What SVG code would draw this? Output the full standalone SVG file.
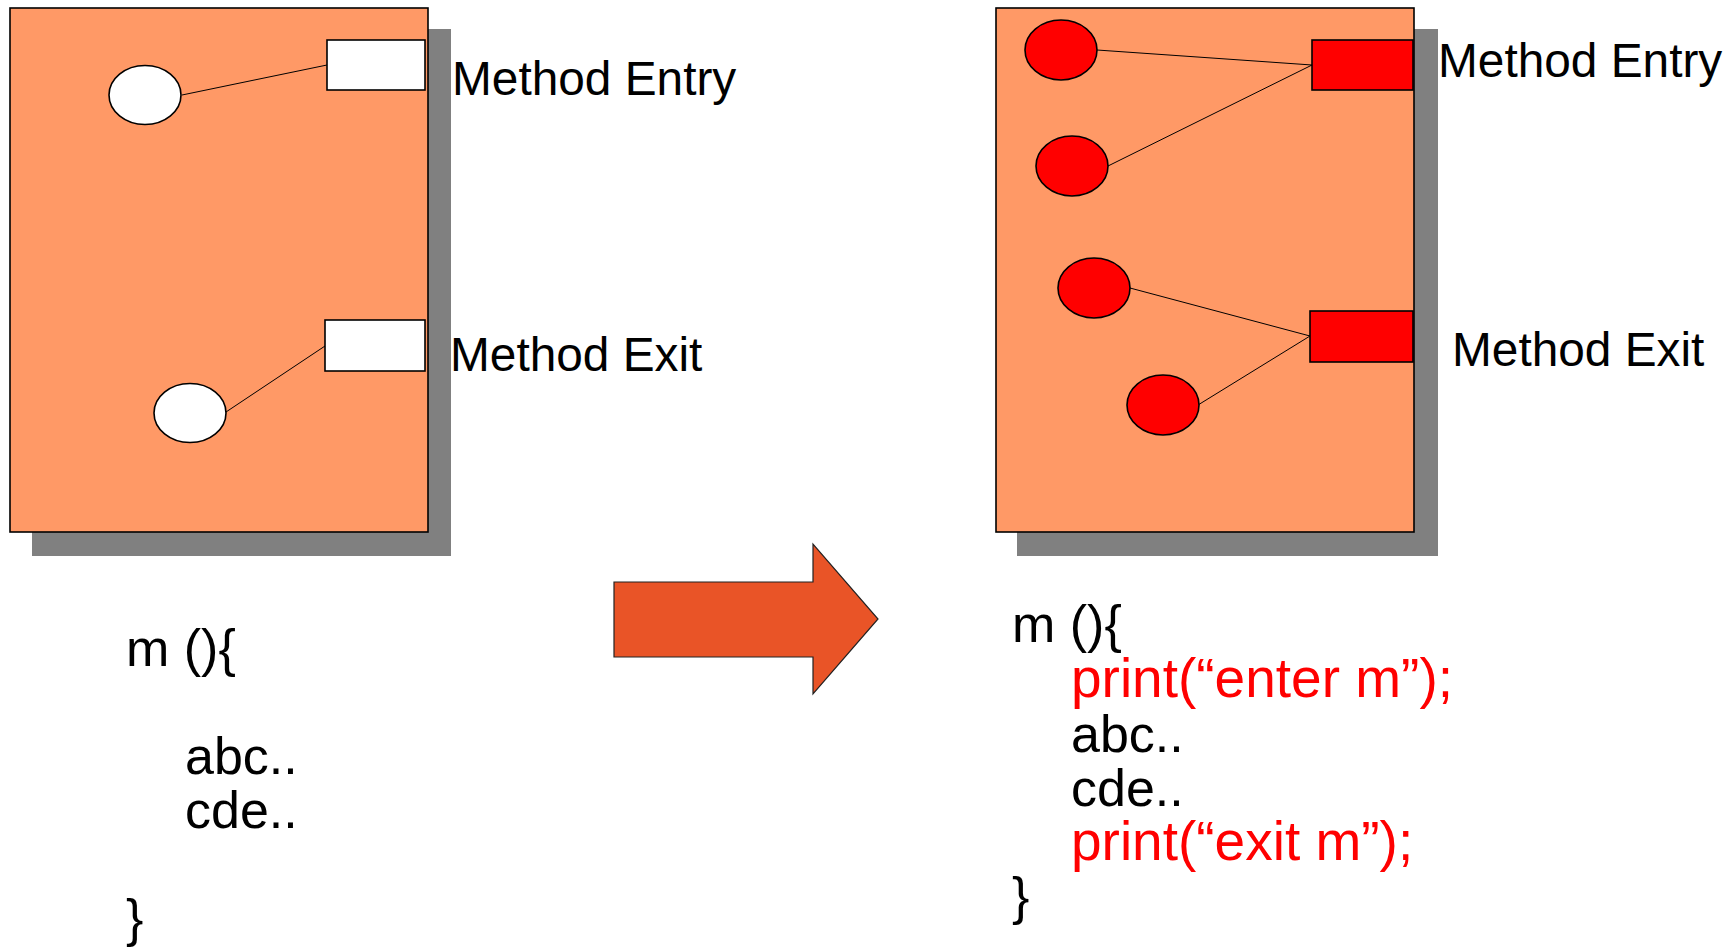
<svg xmlns="http://www.w3.org/2000/svg" width="1733" height="949" viewBox="0 0 1733 949">
<style>
.shadow{fill:#808080;stroke:none}
.panel{fill:#FF9966;stroke:#000;stroke-width:1.6}
.port{fill:#fff;stroke:#000;stroke-width:1.6}
.port.red{fill:#FF0000}
.probe{fill:#fff;stroke:#000;stroke-width:1.6}
.probe.red{fill:#FF0000}
.conn line{stroke:#000;stroke-width:1}
.lbl{font-family:"Liberation Sans",Arial,sans-serif;font-size:47.8px;fill:#000}
.code{font-family:"Liberation Sans",Arial,sans-serif;font-size:52px;fill:#000}
.code.r{fill:#FF0000;font-size:55px}
.arrow{fill:#E95427;stroke:#222;stroke-width:1.2}
</style>
<rect width="1733" height="949" fill="#fff"/>

<g id="left-panel">
<rect class="shadow" x="32" y="29" width="419" height="527"/>
<rect class="panel" x="10" y="8" width="418" height="524"/>
</g>
<g id="right-panel">
<rect class="shadow" x="1017" y="29" width="421" height="527"/>
<rect class="panel" x="996" y="8" width="418" height="524"/>
</g>

<g id="connectors" class="conn">
<line x1="182" y1="95" x2="327" y2="65"/>
<line x1="226" y1="412" x2="325" y2="346"/>
<line x1="1097" y1="50" x2="1312" y2="65"/>
<line x1="1108" y1="166" x2="1312" y2="65"/>
<line x1="1130" y1="288" x2="1310" y2="336"/>
<line x1="1198" y1="405" x2="1310" y2="336"/>
</g>

<g id="left-entry"><rect class="port" x="327" y="40" width="98" height="50"/></g>
<g id="left-exit"><rect class="port" x="325" y="320" width="100" height="51"/></g>
<g id="left-probe-entry"><ellipse class="probe" cx="145" cy="95" rx="36" ry="29.5"/></g>
<g id="left-probe-exit"><ellipse class="probe" cx="190" cy="413" rx="36" ry="29.5"/></g>

<g id="right-entry"><rect class="port red" x="1312" y="40" width="101" height="50"/></g>
<g id="right-exit"><rect class="port red" x="1310" y="311" width="103" height="51"/></g>
<g id="right-probe-1"><ellipse class="probe red" cx="1061" cy="50" rx="36" ry="30"/></g>
<g id="right-probe-2"><ellipse class="probe red" cx="1072" cy="166" rx="36" ry="30"/></g>
<g id="right-probe-3"><ellipse class="probe red" cx="1094" cy="288" rx="36" ry="30"/></g>
<g id="right-probe-4"><ellipse class="probe red" cx="1163" cy="405" rx="36" ry="30"/></g>

<g id="labels">
<text class="lbl" x="452" y="95">Method Entry</text>
<text class="lbl" x="450" y="371">Method Exit</text>
<text class="lbl" x="1438" y="77">Method Entry</text>
<text class="lbl" x="1452" y="366">Method Exit</text>
</g>

<g id="transform-arrow">
<polygon class="arrow" points="614,582 813,582 813,544 878,619 813,694 813,657 614,657"/>
</g>

<g id="code-before">
<text class="code" x="126" y="666">m (){</text>
<text class="code" x="185" y="774">abc..</text>
<text class="code" x="185" y="828">cde..</text>
<text class="code" x="126" y="936">}</text>
</g>

<g id="code-after">
<text class="code" x="1012" y="642">m (){</text>
<text class="code r" x="1071" y="697">print(“enter m”);</text>
<text class="code" x="1071" y="752">abc..</text>
<text class="code" x="1071" y="806">cde..</text>
<text class="code r" x="1071" y="860">print(“exit m”);</text>
<text class="code" x="1012" y="914">}</text>
</g>
</svg>
